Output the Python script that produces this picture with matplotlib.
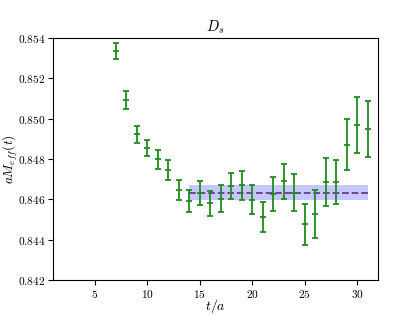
import matplotlib
matplotlib.use("Agg")
import matplotlib.pyplot as plt
from matplotlib.ticker import FuncFormatter

plt.rcParams['mathtext.fontset'] = 'cm'
plt.rcParams['font.family'] = 'serif'
plt.rcParams['font.serif'] = ['DejaVu Serif']

t = [7, 8, 9, 10, 11, 12, 13, 14, 15, 16, 17, 18, 19, 20, 21, 22, 23, 24, 25, 26, 27, 28, 29, 30, 31]
meff = [0.85337, 0.85093, 0.84922, 0.84855, 0.84799, 0.84745, 0.84645, 0.84590, 0.84631,
        0.84580, 0.84603, 0.84668, 0.84670, 0.84598, 0.84514, 0.84626, 0.84689, 0.84633,
        0.84476, 0.84529, 0.84687, 0.84686, 0.84871, 0.84969, 0.84949]
err = [0.00041, 0.00045, 0.00041, 0.00040, 0.00047, 0.00050, 0.00049, 0.00055, 0.00060,
       0.00064, 0.00067, 0.00064, 0.00073, 0.00072, 0.00074, 0.00083, 0.00085, 0.00092,
       0.00102, 0.00120, 0.00119, 0.00110, 0.00126, 0.00139, 0.00141]

fit_range = [14, 31]
fit_value = 0.84633
fit_error = 0.00038

fig = plt.figure(figsize=(4.2, 3.15), dpi=100)
ax = fig.add_axes([0.126, 0.111, 0.774, 0.768])

ax.fill_between(fit_range, fit_value - fit_error, fit_value + fit_error,
                color='blue', alpha=0.22, linewidth=0)
ax.plot(fit_range, [fit_value, fit_value], '--', color='#6a3a8a', linewidth=1.3)
ax.errorbar(t, meff, yerr=err, fmt='_', color='#1e8c1e', ecolor='#1e8c1e',
            capsize=2.5, elinewidth=1.3, markersize=5, markeredgewidth=1.3)

ax.set_xlim(1, 32)
ax.set_ylim(0.842, 0.854)
ax.set_xticks([5, 10, 15, 20, 25, 30])
ax.set_yticks([0.842, 0.844, 0.846, 0.848, 0.850, 0.852, 0.854])
ax.xaxis.set_major_formatter(FuncFormatter(lambda v, p: r'$%d$' % v))
ax.yaxis.set_major_formatter(FuncFormatter(lambda v, p: r'$%.3f$' % v))
ax.tick_params(labelsize=8.2, pad=2)
ax.set_title(r'$D_s$', fontsize=10.5, pad=5)
ax.set_xlabel(r'$t/a$', fontsize=10, va='center')
ax.xaxis.set_label_coords(0.5, -0.108)
ax.set_ylabel(r'$aM_{eff}(t)$', fontsize=9.5, va='center')
ax.yaxis.set_label_coords(-0.13, 0.5)

fig.savefig('out.png', dpi=100)
